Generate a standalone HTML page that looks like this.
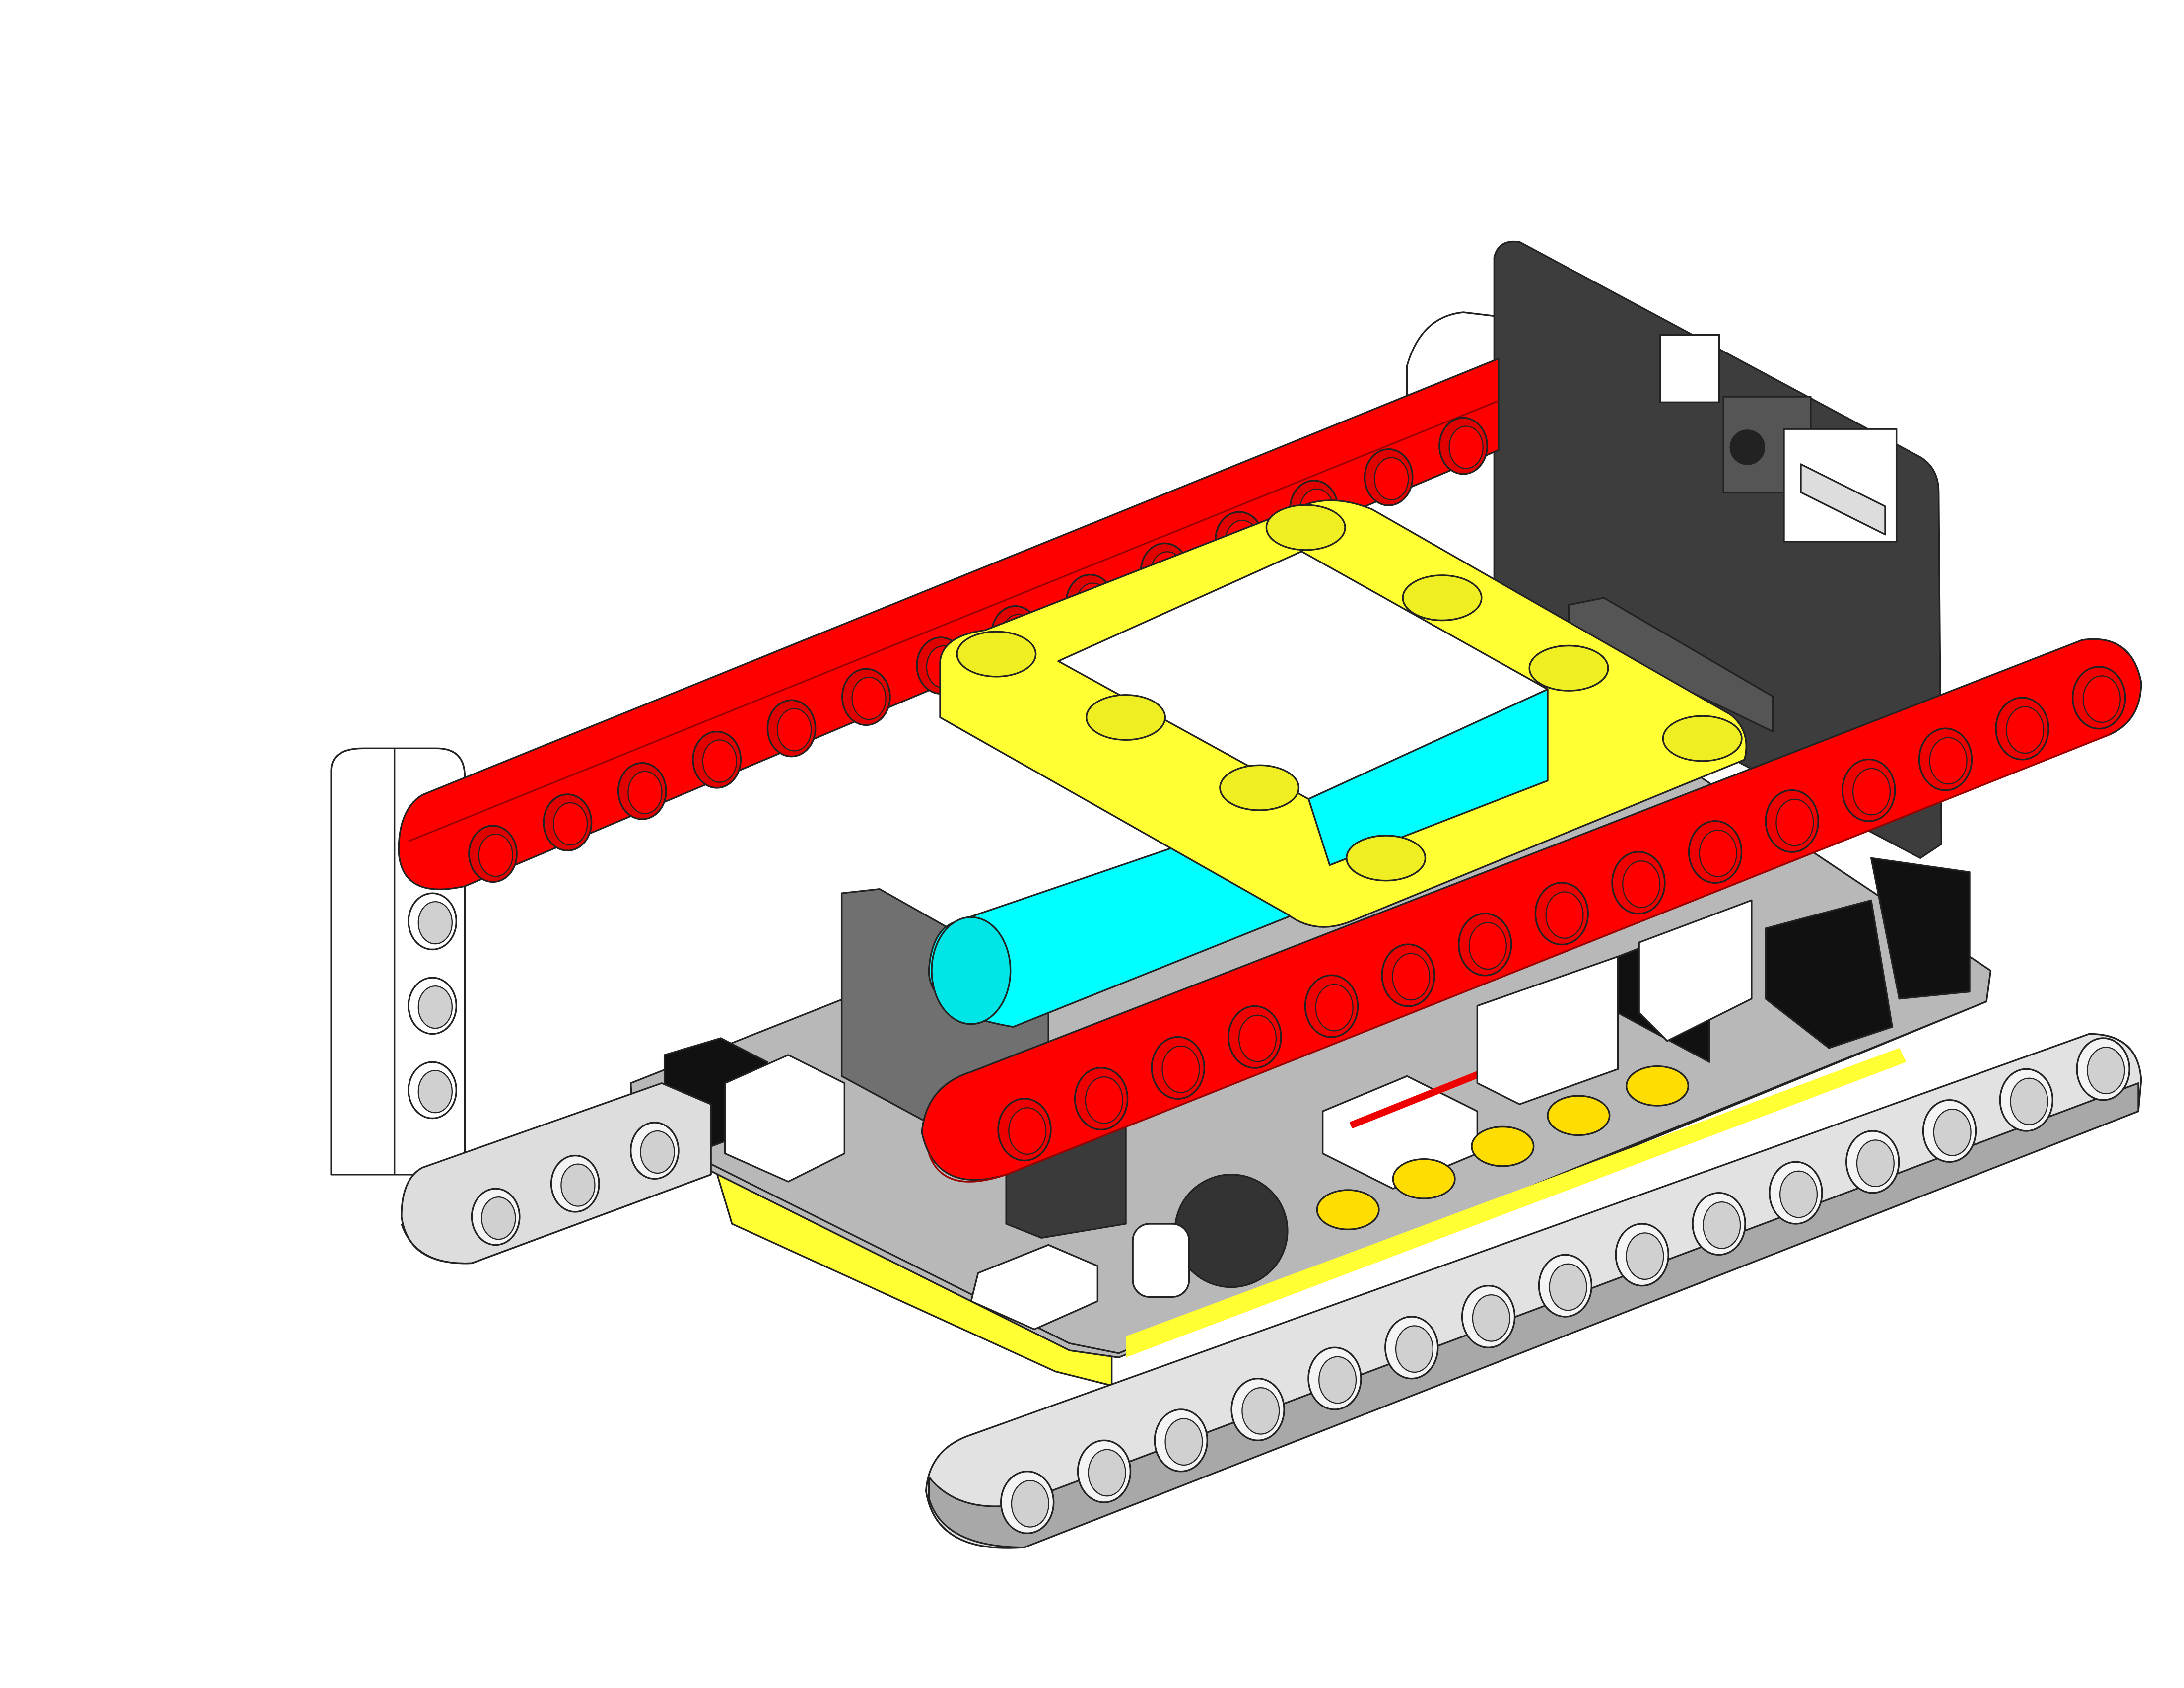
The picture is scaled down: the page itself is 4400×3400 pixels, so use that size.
<!DOCTYPE html>
<html><head><meta charset="utf-8"><style>
html,body{margin:0;padding:0;background:#fff;width:4400px;height:3400px;overflow:hidden}
svg{display:block}
</style></head><body>
<svg id="scene" width="4400" height="3400" viewBox="0 0 1552 1200" xmlns="http://www.w3.org/2000/svg" stroke="#222" stroke-width="1.2" stroke-linejoin="round">
<rect x="0" y="0" width="1552" height="1200" fill="#fff" stroke="none"/>
<g>
<path d="M235,548 Q235,532 258,532 L310,532 Q330,532 330,552 L330,835 L235,835 Z" fill="#fff"/>
<line x1="280" y1="532" x2="280" y2="835"/>
</g>
<path d="M1000,260 Q1010,225 1040,222 L1065,225 L1065,290 L1000,290 Z" fill="#fff"/>
<g>
<path d="M1062,183 Q1065,170 1080,172 L1365,325 Q1378,333 1378,350 L1380,600 L1365,610 L1062,450 Z" fill="#3d3d3d"/>
<rect x="1180" y="238" width="42" height="48" fill="#fff"/>
<rect x="1225" y="282" width="62" height="68" fill="#555"/>
<circle cx="1242" cy="318" r="12" fill="#222"/>
<rect x="1268" y="305" width="80" height="80" fill="#fff"/>
<path d="M1280,330 L1340,360 L1340,380 L1280,350 Z" fill="#ddd"/>
</g>
<g>
<path d="M300,565 L1065,255 L1065,320 L330,630 Q285,640 283,605 Q283,575 300,565 Z" fill="#ff0000"/>
<path d="M290,598 L1065,285" stroke="#900" fill="none"/>
</g>
<g id="backholes"></g>
<g>
<path d="M505,820 L540,835 L790,960 L790,985 L750,975 L520,870 Z" fill="#ffff33"/>
<path d="M448,770 L1130,500 L1415,690 L1412,712 L795,965 L760,960 L450,805 Z" fill="#b8b8b8"/>
<path d="M450,800 L760,955 L795,962 L1412,712" fill="none"/>
<path d="M800,950 L1350,745 L1355,755 L800,965 Z" fill="#ffff33" stroke="none"/>
<path d="M472,750 L512,738 L545,755 L545,800 L505,815 L472,800 Z" fill="#111"/>
<path d="M515,770 L560,750 L600,770 L600,820 L560,840 L515,820 Z" fill="#fff"/>
<path d="M695,905 L745,885 L780,900 L780,925 L735,945 L690,925 Z" fill="#fff"/>
<circle cx="875" cy="875" r="40" fill="#333"/>
<rect x="805" y="870" width="40" height="52" rx="12" fill="#fff"/>
<path d="M940,790 L1000,765 L1050,790 L1050,820 L990,845 L940,820 Z" fill="#fff"/>
<path d="M960,800 L1060,760" stroke="#e00" stroke-width="5"/>
<path d="M1150,680 L1215,655 L1215,755 L1150,720 Z" fill="#111"/>
<path d="M1255,660 L1330,640 L1345,730 L1300,745 L1255,710 Z" fill="#111"/>
<path d="M1050,715 L1150,680 L1150,760 L1080,785 L1050,770 Z" fill="#fff"/>
<path d="M1165,670 L1245,640 L1245,710 L1185,740 L1165,720 Z" fill="#fff"/>
<path d="M1330,610 L1400,620 L1400,705 L1350,710 Z" fill="#111"/>
</g>
<g id="pads"></g>
<g>
<path d="M598,635 L625,632 L745,700 L745,835 L718,830 L598,765 Z" fill="#707070"/>
<path d="M715,830 L800,800 L800,870 L740,880 L715,870 Z" fill="#3a3a3a"/>
<path d="M1115,430 L1140,425 L1260,495 L1260,520 L1115,450 Z" fill="#555"/>
</g>
<g>
<path d="M680,655 L1090,515 L1095,580 L720,730 Q660,720 660,690 Q662,660 680,655 Z" fill="#00ffff"/>
<ellipse cx="690" cy="690" rx="28" ry="38" fill="#00e5e5"/>
</g>
<g>
<path d="M668,470 Q670,452 700,448 L930,358 Q950,352 975,362 L1230,508 Q1245,520 1240,540 L960,655 Q935,665 915,650 L668,510 Z" fill="#ffff33"/>
<path d="M752,470 L925,392 L1100,490 L930,568 Z" fill="#fff"/>
<path d="M930,568 L1100,490 L1100,555 L945,615 Z" fill="#00ffff"/>
</g>
<g>
<path d="M300,830 L470,770 L505,785 L505,835 L335,898 Q290,900 285,865 Q285,838 300,830 Z" fill="#ddd"/>
<path d="M285,870 Q295,900 335,898 L505,835" fill="none"/>
</g>
<g>
<path d="M690,762 L1480,455 Q1515,450 1522,485 Q1522,512 1500,522 L715,835 Q665,850 655,805 Q658,772 690,762 Z" fill="#ff0000"/>
<path d="M660,820 Q670,850 715,835 L1500,522" stroke="#900" fill="none"/>
</g>
<g>
<path d="M690,1020 L1485,735 Q1520,735 1522,768 L1520,790 L728,1100 Q665,1105 658,1060 Q660,1030 690,1020 Z" fill="#e2e2e2"/>
<path d="M660,1065 Q670,1100 728,1100 L1520,790 L1520,770 L720,1070 Q680,1075 660,1050 Z" fill="#a8a8a8"/>
</g>
<g id="holes"></g>
</svg>
<script>
const NS='http://www.w3.org/2000/svg';
const holes=document.getElementById('holes');
const backholes=document.getElementById('backholes');
const beams=[
 {x0:350,y0:607,x1:1040,y1:317,n:14,fill:'#ff0000',in:'#e00000',r:20,g:'back'},
 {x0:728,y0:803,x1:1492,y1:496,n:15,fill:'#ff0000',in:'#ee0000',r:22,g:'front'},
 {x0:730,y0:1068,x1:1495,y1:760,n:15,fill:'#e2e2e2',in:'#f4f4f4',r:22,g:'front'},
 {x0:352,y0:865,x1:465,y1:818,n:3,fill:'#ddd',in:'#f4f4f4',r:20,g:'front'},
 {x0:307,y0:655,x1:307,y1:775,n:3,fill:'#fff',in:'#fff',r:20,g:'front'}
];
beams.forEach(b=>{
 const parent=b.g==='back'?backholes:holes;
 for(let i=0;i<b.n;i++){
  const t=b.n>1?i/(b.n-1):0;
  const cx=b.x0+(b.x1-b.x0)*t, cy=b.y0+(b.y1-b.y0)*t;
  const c=document.createElementNS(NS,'ellipse');
  
  
  c.setAttribute('cx',cx);c.setAttribute('cy',cy);
  c.setAttribute('rx',b.r*0.85);c.setAttribute('ry',b.r);
  c.setAttribute('fill',b.in);
  parent.appendChild(c);
  const c2=document.createElementNS(NS,'ellipse');
  
  
  c2.setAttribute('cx',cx+2);c2.setAttribute('cy',cy+1);
  c2.setAttribute('rx',b.r*0.6);c2.setAttribute('ry',b.r*0.75);
  c2.setAttribute('fill',b.fill==='#ff0000'?'#ff0000':'#d0d0d0');
  c2.setAttribute('stroke-width','0.8');
  parent.appendChild(c2);
 }
});
const fh=[[708,465],[800,510],[895,560],[985,610],[928,375],[1025,425],[1115,475],[1210,525]];
fh.forEach(p=>{
 const c=document.createElementNS(NS,'ellipse');
 
 
 c.setAttribute('cx',p[0]);c.setAttribute('cy',p[1]);c.setAttribute('rx',28);c.setAttribute('ry',16);
 c.setAttribute('fill','#eeee22');
 holes.appendChild(c);
});
const pads=document.getElementById('pads');
const pp=[[958,860],[1012,838],[1068,815],[1122,793],[1178,772]];
pp.forEach(p=>{
 const c=document.createElementNS(NS,'ellipse');
 
 
 c.setAttribute('cx',p[0]);c.setAttribute('cy',p[1]);c.setAttribute('rx',22);c.setAttribute('ry',14);
 c.setAttribute('fill','#ffdd00');
 pads.appendChild(c);
});
</script>
</body></html>
